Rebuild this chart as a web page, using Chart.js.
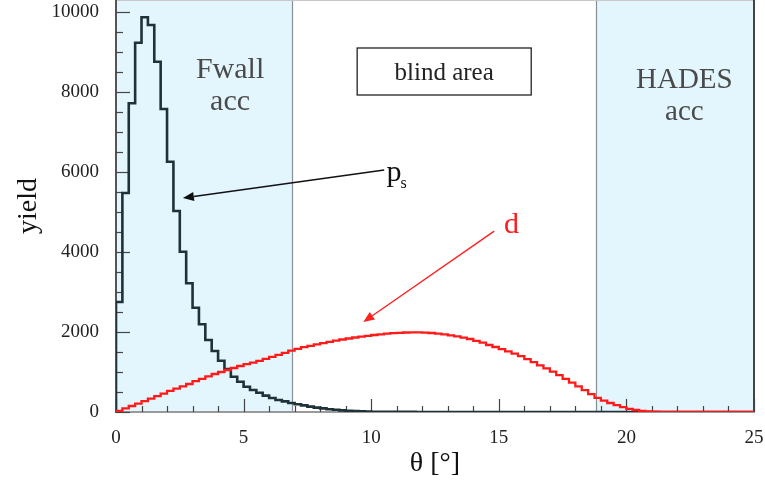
<!DOCTYPE html>
<html>
<head>
<meta charset="utf-8">
<script src="https://cdn.jsdelivr.net/npm/chart.js@4/dist/chart.umd.min.js"></script>
<style>
  html, body { margin: 0; padding: 0; background: #fff; }
  #wrap { width: 765px; height: 483px; position: relative; }
</style>
</head>
<body>
<div id="wrap"><canvas id="chartTheta"></canvas></div>
<script>
// --- datos: histogramas de θ (bins de 0.25°) ---
const binWidth = 0.25;
const yTicks = [0, 2000, 4000, 6000, 8000, 10000];
const xTicks = [0, 5, 10, 15, 20, 25];

// p_s (negro)
const psCounts = [
  2750, 5475, 7717, 9233, 9867, 9675, 8758, 7575, 6258, 5025,
  4008, 3217, 2608, 2192, 1800, 1525, 1283, 1075, 883, 758,
  633, 550, 480, 410, 350, 300, 265, 225, 195, 165,
  135, 110, 90, 70, 55, 40, 30, 22, 15, 10,
  8, 6, 5, 4, 3, 2, 2, 1, 1, 1,
  0, 0, 0, 0, 0, 0, 0, 0, 0, 0,
  0, 0, 0, 0, 0, 0, 0, 0, 0, 0,
  0, 0, 0, 0, 0, 0, 0, 0, 0, 0,
  0, 0, 0, 0, 0, 0, 0, 0, 0, 0,
  0, 0, 0, 0, 0, 0, 0, 0, 0, 0
];

// d (rojo)
const dCounts = [
  30, 90, 150, 210, 270, 335, 395, 460, 530, 585,
  640, 700, 770, 830, 890, 950, 1000, 1050, 1100, 1150,
  1195, 1235, 1280, 1330, 1380, 1430, 1480, 1535, 1580, 1620,
  1655, 1690, 1722, 1755, 1785, 1812, 1838, 1862, 1885, 1905,
  1925, 1943, 1958, 1970, 1980, 1988, 1992, 1990, 1985, 1975,
  1960, 1940, 1915, 1890, 1860, 1825, 1780, 1735, 1675, 1625,
  1570, 1515, 1460, 1395, 1320, 1245, 1165, 1090, 1010, 920,
  830, 735, 640, 545, 445, 355, 285, 225, 170, 120,
  80, 50, 28, 14, 7, 4, 2, 1, 1, 0,
  0, 0, 0, 0, 0, 0, 0, 0, 0, 0
];

// zonas de aceptancia (en grados)
const accRanges = [[0, 6.9], [18.8, 25]];

// --- helper: histograma -> puntos escalonados
function toSteps(counts) {
  const pts = [{ x: 0, y: 0 }];
  counts.forEach((c, i) => pts.push({ x: i * binWidth, y: c }));
  pts.push({ x: counts.length * binWidth, y: counts[counts.length - 1] });
  return pts;
}

const SERIF = "'Liberation Serif', 'DejaVu Serif', serif";

// --- anotaciones (texto, caja, flechas) en coordenadas de datos
const notes = {
  texts: [
    { lines: ["Fwall", "acc"], x: 4.47, y: [8350, 7550], color: "#4a4a4a", size: 30 },
    { lines: ["HADES", "acc"], x: 22.27, y: [8100, 7300], color: "#4a4a4a", size: 29 },
    { lines: ["blind area"], x: 12.86, y: [8300], color: "#222", size: 25 },
  ],
  box: { x0: 9.45, x1: 16.27, y0: 7925, y1: 9100 },
  arrows: [
    { from: [10.51, 6050], to: [2.62, 5350], color: "#111" },
    { from: [14.82, 4520], to: [9.69, 2250], color: "#ff2020" },
  ],
};

// quita el relleno automático que Chart.js reserva para las etiquetas
function noAutoPadding(s) {
  s.paddingTop = 0;
  s.paddingBottom = 0;
  s.paddingLeft = 0;
  s.paddingRight = 0;
}

const overlayPlugin = {
  id: "overlay",
  beforeDraw(chart) {
    const { ctx, chartArea: a, scales: { x, y } } = chart;
    ctx.save();
    accRanges.forEach(([lo, hi]) => {
      const x0 = x.getPixelForValue(lo), x1 = x.getPixelForValue(hi);
      ctx.fillStyle = "#e3f5fd";
      ctx.fillRect(x0, a.top, x1 - x0, a.bottom - a.top);
    });
    // líneas de borde de zonas
    ctx.strokeStyle = "#8a8f93";
    ctx.lineWidth = 1.2;
    [accRanges[0][1], accRanges[1][0]].forEach((v) => {
      const px = Math.round(x.getPixelForValue(v)) + 0.5;
      ctx.beginPath();
      ctx.moveTo(px, a.top);
      ctx.lineTo(px, a.bottom);
      ctx.stroke();
    });
    // marco superior y derecho
    ctx.strokeStyle = "#c8c8c8";
    ctx.beginPath();
    ctx.moveTo(a.left, a.top + 0.5);
    ctx.lineTo(a.right, a.top + 0.5);
    ctx.stroke();
    ctx.strokeStyle = "#444";
    ctx.lineWidth = 2;
    ctx.beginPath();
    ctx.moveTo(a.right, a.top);
    ctx.lineTo(a.right, a.bottom);
    ctx.stroke();
    ctx.restore();
  },
  beforeDatasetsDraw(chart) {
    // ticks hacia dentro
    const { ctx, chartArea: a, scales: { x, y } } = chart;
    ctx.save();
    ctx.strokeStyle = "#444";
    ctx.lineWidth = 1.2;
    for (let v = 0; v <= 10000; v += 500) {
      const py = Math.round(y.getPixelForValue(v)) + 0.5;
      const len = v % 2000 === 0 ? 14 : 7;
      ctx.beginPath();
      ctx.moveTo(a.left, py);
      ctx.lineTo(a.left + len, py);
      ctx.stroke();
    }
    for (let v = 0; v <= 25; v += 1) {
      const px = Math.round(x.getPixelForValue(v)) + 0.5;
      const len = v % 5 === 0 ? 13 : 6;
      ctx.beginPath();
      ctx.moveTo(px, a.bottom);
      ctx.lineTo(px, a.bottom - len);
      ctx.stroke();
    }
    ctx.restore();
  },
  afterDatasetsDraw(chart) {
    const { ctx, scales: { x, y } } = chart;
    const X = (v) => x.getPixelForValue(v);
    const Y = (v) => y.getPixelForValue(v);
    ctx.save();
    ctx.textAlign = "center";
    ctx.textBaseline = "alphabetic";

    // caja "blind area"
    const b = notes.box;
    ctx.fillStyle = "#fff";
    ctx.fillRect(X(b.x0), Y(b.y1), X(b.x1) - X(b.x0), Y(b.y0) - Y(b.y1));
    ctx.strokeStyle = "#222";
    ctx.lineWidth = 1.3;
    ctx.strokeRect(X(b.x0), Y(b.y1), X(b.x1) - X(b.x0), Y(b.y0) - Y(b.y1));

    notes.texts.forEach((t) => {
      ctx.fillStyle = t.color;
      ctx.font = `${t.size}px ${SERIF}`;
      t.lines.forEach((line, i) => ctx.fillText(line, X(t.x), Y(t.y[i])));
    });

    // p_s
    ctx.textAlign = "left";
    ctx.fillStyle = "#111";
    ctx.font = `30px ${SERIF}`;
    ctx.fillText("p", X(10.6), Y(5775));
    ctx.font = `16px ${SERIF}`;
    ctx.fillText("s", X(11.15), Y(5600));

    // d
    ctx.fillStyle = "#ff1a1a";
    ctx.font = `30px ${SERIF}`;
    ctx.fillText("d", X(15.2), Y(4475));

    // flechas
    notes.arrows.forEach((ar) => {
      const x0 = X(ar.from[0]), y0 = Y(ar.from[1]);
      const x1 = X(ar.to[0]), y1 = Y(ar.to[1]);
      const ang = Math.atan2(y1 - y0, x1 - x0);
      const head = 11, half = 4.5;
      const bx = x1 - head * Math.cos(ang), by = y1 - head * Math.sin(ang);
      ctx.strokeStyle = ar.color;
      ctx.fillStyle = ar.color;
      ctx.lineWidth = 1.4;
      ctx.beginPath();
      ctx.moveTo(x0, y0);
      ctx.lineTo(bx, by);
      ctx.stroke();
      ctx.beginPath();
      ctx.moveTo(x1, y1);
      ctx.lineTo(bx + half * Math.sin(ang), by - half * Math.cos(ang));
      ctx.lineTo(bx - half * Math.sin(ang), by + half * Math.cos(ang));
      ctx.closePath();
      ctx.fill();
    });
    ctx.restore();
  },
};

new Chart(document.getElementById("chartTheta"), {
  type: "line",
  data: {
    datasets: [
      {
        label: "d",
        data: toSteps(dCounts),
        borderColor: "#ff1a1a",
        borderWidth: 2.3,
        stepped: true,
        pointRadius: 0,
        fill: false,
      },
      {
        label: "ps",
        data: toSteps(psCounts),
        borderColor: "#1f3239",
        borderWidth: 2.6,
        stepped: true,
        pointRadius: 0,
        fill: false,
      },
    ],
  },
  options: {
    responsive: true,
    maintainAspectRatio: false,
    animation: false,
    events: [],
    layout: { padding: { top: 0, right: 11, bottom: 0, left: 0 } },
    plugins: { legend: { display: false }, tooltip: { enabled: false } },
    scales: {
      x: {
        type: "linear",
        min: 0,
        max: 25,
        grid: { display: false },
        border: { display: true, color: "#9a9a9a", width: 2 },
        afterBuildTicks: (s) => { s.ticks = xTicks.map((v) => ({ value: v })); },
        afterFit: (s) => { s.height = 71; noAutoPadding(s); },
        ticks: {
          padding: 7,
          color: "#222",
          maxRotation: 0,
          font: { family: SERIF, size: 19 },
          callback: (v) => String(v),
        },
        title: {
          display: true,
          text: "θ [°]",
          color: "#111",
          font: { family: SERIF, size: 28 },
          padding: { top: 0, bottom: 3 },
        },
      },
      y: {
        type: "linear",
        min: 0,
        max: 10300,
        grid: { display: false },
        border: { display: true, color: "#555", width: 2 },
        afterBuildTicks: (s) => { s.ticks = yTicks.map((v) => ({ value: v })); },
        afterFit: (s) => { s.width = 116; noAutoPadding(s); },
        ticks: {
          padding: 9,
          color: "#222",
          font: { family: SERIF, size: 19 },
          callback: (v) => String(v),
        },
        title: {
          display: true,
          text: "yield",
          color: "#111",
          font: { family: SERIF, size: 28 },
          padding: { top: 12, bottom: 0 },
        },
      },
    },
  },
  plugins: [overlayPlugin],
});
</script>
</body>
</html>
